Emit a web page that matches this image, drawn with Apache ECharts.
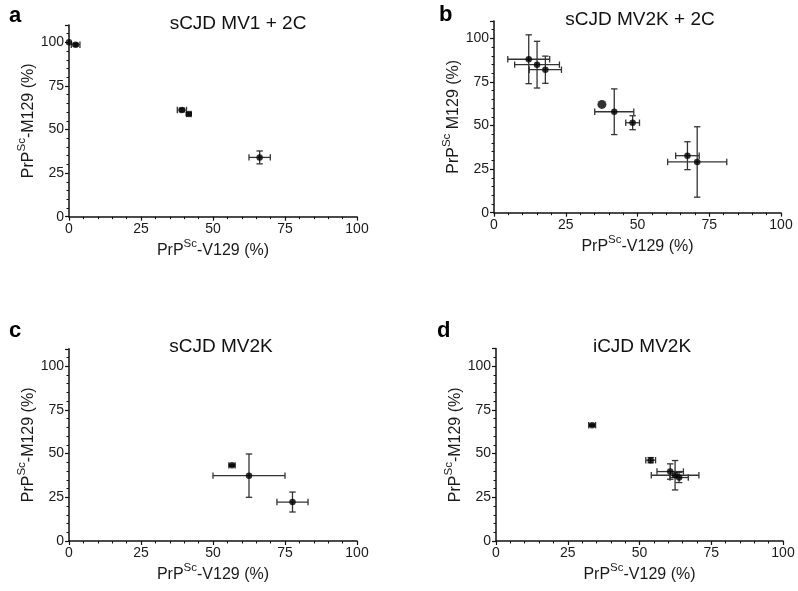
<!DOCTYPE html>
<html>
<head>
<meta charset="utf-8">
<script src="https://cdn.jsdelivr.net/npm/echarts@6/dist/echarts.min.js"></script>
<style>html,body{margin:0;padding:0;background:#fff}#c{width:798px;height:591px}</style>
</head>
<body>
<div id="c"></div>
<script>
// Panel a: sCJD MV1 + 2C
const aX = [0, 2.3, 39.2, 41.6, 66.2];
const aY = [100, 98.6, 61.2, 58.9, 34.0];
const aXErr = [0, 1.5, 1.6, 0.8, 3.7];
const aYErr = [0, 0.8, 1.0, 0.8, 3.7];
// Panel b: sCJD MV2K + 2C
const bX = [12.1, 15.0, 17.9, 37.6, 41.9, 48.3, 67.4, 70.8];
const bY = [88.0, 84.9, 82.0, 62.1, 57.9, 51.6, 32.7, 29.1];
const bXErr = [7.3, 7.8, 5.6, 0, 6.8, 2.4, 4.1, 10.3];
const bYErr = [14.0, 13.4, 7.8, 0, 13.1, 4.0, 8.0, 20.2];
// Panel c: sCJD MV2K
const cX = [56.6, 62.5, 77.6];
const cY = [43.3, 37.4, 22.3];
const cXErr = [1.1, 12.5, 5.4];
const cYErr = [0.6, 12.4, 5.7];
// Panel d: iCJD MV2K
const dX = [33.5, 53.9, 60.7, 62.4, 63.8];
const dY = [66.2, 46.2, 39.7, 37.6, 36.3];
const dXErr = [1.2, 1.7, 4.6, 8.3, 3.2];
const dYErr = [0.6, 1.5, 4.4, 8.4, 2.9];

const titles = ['sCJD MV1 + 2C', 'sCJD MV2K + 2C', 'sCJD MV2K', 'iCJD MV2K'];
const letters = ['a', 'b', 'c', 'd'];
const xTicks = [0, 25, 50, 75, 100];
const yTicks = [0, 25, 50, 75, 100];

const FONT = 'Liberation Sans, Arial, sans-serif';
const panels = [
  {X: aX, Y: aY, EX: aXErr, EY: aYErr, yname: '-M129 (%)'},
  {X: bX, Y: bY, EX: bXErr, EY: bYErr, yname: ' M129 (%)'},
  {X: cX, Y: cY, EX: cXErr, EY: cYErr, yname: '-M129 (%)'},
  {X: dX, Y: dY, EX: dXErr, EY: dYErr, yname: '-M129 (%)'}
];
const grids = [
  {left: 69, top: 24.9, width: 288, height: 191.8},
  {left: 494, top: 20.9, width: 287, height: 191.8},
  {left: 69, top: 348.8, width: 288, height: 192.2},
  {left: 496, top: 348.6, width: 287, height: 192.4}
];
const titlePos = [
  {x: 233, y: 9}, {x: 635, y: 5}, {x: 216, y: 332}, {x: 637, y: 332}
];
const letterPos = [
  {x: 4, y: 0}, {x: 434, y: -1}, {x: 4, y: 315}, {x: 432, y: 315}
];

const rich = {
  n: {fontSize: 16, fontFamily: FONT, color: '#1a1a1a', lineHeight: 21, verticalAlign: 'bottom'},
  s: {fontSize: 11.5, fontFamily: FONT, color: '#1a1a1a', lineHeight: 21, verticalAlign: 'top'}
};

function axisCommon() {
  return {
    min: 0,
    axisLine: {show: true, lineStyle: {color: '#111', width: 1.5}},
    axisTick: {show: true, length: 4, lineStyle: {color: '#111', width: 1.2}},
    minorTick: {show: true, splitNumber: 5, length: 2.5, lineStyle: {color: '#111', width: 1}},
    splitLine: {show: false},
    minorSplitLine: {show: false},
    axisLabel: {fontSize: 14, fontFamily: FONT, color: '#1a1a1a', margin: 5,
      formatter: function (v) { return yTicks.indexOf(v) >= 0 ? String(v) : ''; }}
  };
}

const option = {
  animation: false,
  backgroundColor: '#fff',
  title: [],
  grid: grids,
  xAxis: [],
  yAxis: [],
  series: []
};

panels.forEach(function (p, i) {
  option.title.push({text: titles[i], left: titlePos[i].x, top: titlePos[i].y, textAlign: 'center',
    textStyle: {fontSize: 19, fontWeight: 'normal', fontFamily: FONT, color: '#111'}});
  option.title.push({text: letters[i], left: letterPos[i].x, top: letterPos[i].y,
    textStyle: {fontSize: 22, fontWeight: 'bold', fontFamily: FONT, color: '#000'}});
  const xa = axisCommon();
  Object.assign(xa, {type: 'value', gridIndex: i, max: 100, interval: 25,
    name: '{n|PrP}{s|Sc}{n|-V129 (%)}', nameLocation: 'middle', nameGap: 21,
    nameTextStyle: {rich: rich}});
  xa.axisLabel.formatter = function (v) { return xTicks.indexOf(v) >= 0 ? String(v) : ''; };
  const ya = axisCommon();
  Object.assign(ya, {type: 'value', gridIndex: i, max: 110, interval: 25,
    name: '{n|PrP}{s|Sc}{n|' + p.yname + '}', nameLocation: 'middle', nameGap: 25,
    nameTextStyle: {rich: rich}});
  option.xAxis.push(xa);
  option.yAxis.push(ya);
  const errData = p.X.map(function (x, k) { return [x, p.Y[k], p.EX[k], p.EY[k]]; });
  option.series.push({
    type: 'custom', xAxisIndex: i, yAxisIndex: i, clip: false,
    data: errData,
    encode: {x: 0, y: 1},
    renderItem: function (params, api) {
      const x = api.value(0), y = api.value(1), ex = api.value(2), ey = api.value(3);
      const cap = 3.2;
      const st = {stroke: '#333', lineWidth: 1.3};
      const ch = [];
      if (ex > 0) {
        const l = api.coord([x - ex, y]), r = api.coord([x + ex, y]);
        ch.push({type: 'line', shape: {x1: l[0], y1: l[1], x2: r[0], y2: r[1]}, style: st});
        ch.push({type: 'line', shape: {x1: l[0], y1: l[1] - cap, x2: l[0], y2: l[1] + cap}, style: st});
        ch.push({type: 'line', shape: {x1: r[0], y1: r[1] - cap, x2: r[0], y2: r[1] + cap}, style: st});
      }
      if (ey > 0) {
        const t = api.coord([x, y + ey]), b = api.coord([x, y - ey]);
        ch.push({type: 'line', shape: {x1: t[0], y1: t[1], x2: b[0], y2: b[1]}, style: st});
        ch.push({type: 'line', shape: {x1: t[0] - cap, y1: t[1], x2: t[0] + cap, y2: t[1]}, style: st});
        ch.push({type: 'line', shape: {x1: b[0] - cap, y1: b[1], x2: b[0] + cap, y2: b[1]}, style: st});
      }
      return {type: 'group', children: ch};
    },
    z: 2
  });
  option.series.push({
    type: 'scatter', xAxisIndex: i, yAxisIndex: i, clip: false,
    data: p.X.map(function (x, k) { return [x, p.Y[k]]; }),
    symbol: 'circle',
    symbolSize: function (v, params) { return (i === 1 && params.dataIndex === 3) ? 9 : 6.5; },
    itemStyle: {color: '#000'},
    z: 3
  });
});

const chart = echarts.init(document.getElementById('c'), null, {renderer: 'canvas'});
chart.setOption(option);
</script>
</body>
</html>
